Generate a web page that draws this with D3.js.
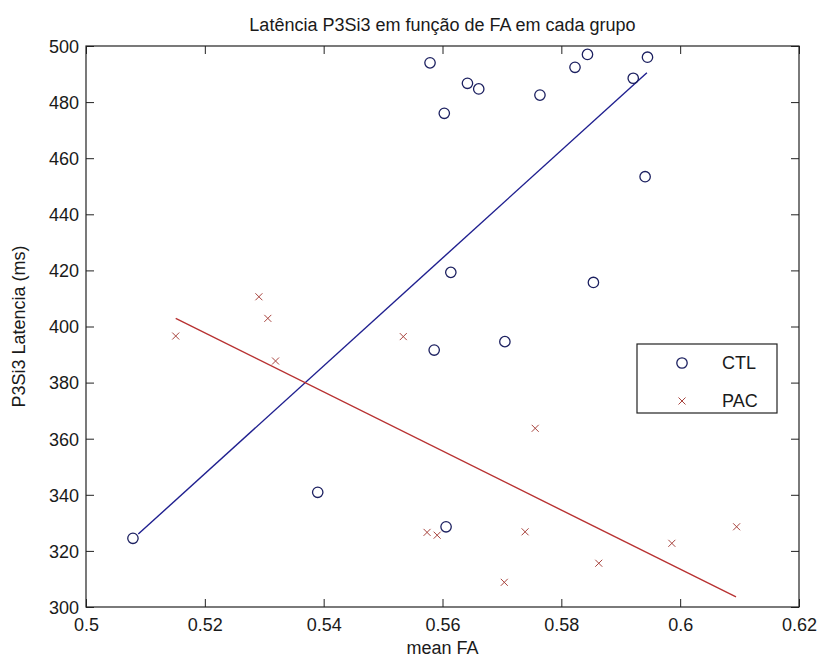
<!DOCTYPE html>
<html>
<head>
<meta charset="utf-8">
<script src="https://cdn.jsdelivr.net/npm/d3@7"></script>
<style>
  body { margin: 0; background: #fff; }
  text { font-family: "Liberation Sans", Arial, sans-serif; fill: #1a1a1a; }
</style>
</head>
<body>
<svg id="chart" width="821" height="662"></svg>
<script>
// Control group (CTL): mean FA vs P3Si3 latency (ms)
const ctlFA  = [0.5579, 0.5844, 0.5945, 0.5823, 0.5921, 0.5642, 0.5661, 0.5764, 0.5603,
                0.5941, 0.5614, 0.5854, 0.5586, 0.5705, 0.5606, 0.5390, 0.5079];
const ctlLat = [494.0, 497.0, 496.0, 492.4, 488.5, 486.7, 484.7, 482.5, 476.0,
                453.4, 419.3, 415.7, 391.6, 394.6, 328.6, 340.9, 324.5];

// Patient group (PAC)
const pacFA  = [0.5291, 0.5306, 0.5151, 0.5534, 0.5319, 0.5756, 0.5574, 0.5591,
                0.5739, 0.6095, 0.5986, 0.5863, 0.5704];
const pacLat = [410.6, 402.9, 396.6, 396.4, 387.7, 363.7, 326.6, 325.6,
                326.8, 328.6, 322.7, 315.6, 308.8];

// Least-squares fit lines, endpoints at each group's FA range
const ctlFitFA  = [0.5088, 0.5944];
const ctlFitLat = [326.0, 490.5];
const pacFitFA  = [0.5151, 0.6094];
const pacFitLat = [402.9, 303.6];

const xTicks = [0.5, 0.52, 0.54, 0.56, 0.58, 0.6, 0.62];
const yTicks = [300, 320, 340, 360, 380, 400, 420, 440, 460, 480, 500];
const groups = ["CTL", "PAC"];

const W = 821, H = 662;
const mL = 86, mR = 799, mT = 46, mB = 607;

const svg = d3.select("#chart");
svg.append("rect").attr("width", W).attr("height", H).attr("fill", "#fff");

const x = d3.scaleLinear().domain([0.5, 0.62]).range([mL, mR]);
const y = d3.scaleLinear().domain([300, 500]).range([mB, mT]);

const fmt = d => String(+d.toFixed(2));
const TICK = 8;

// Axes with inward ticks on all four sides
const gx = svg.append("g").attr("transform", `translate(0,${mB})`)
  .call(d3.axisBottom(x).tickValues(xTicks).tickFormat(fmt).tickSizeInner(-TICK).tickSizeOuter(0).tickPadding(11));
const gxt = svg.append("g").attr("transform", `translate(0,${mT})`)
  .call(d3.axisTop(x).tickValues(xTicks).tickFormat("").tickSizeInner(-TICK).tickSizeOuter(0));
const gy = svg.append("g").attr("transform", `translate(${mL},0)`)
  .call(d3.axisLeft(y).tickValues(yTicks).tickFormat(fmt).tickSizeInner(-TICK).tickSizeOuter(0).tickPadding(7));
const gyr = svg.append("g").attr("transform", `translate(${mR},0)`)
  .call(d3.axisRight(y).tickValues(yTicks).tickFormat("").tickSizeInner(-TICK).tickSizeOuter(0));

[gx, gxt, gy, gyr].forEach(g => {
  g.select(".domain").remove();
  g.selectAll(".tick line").attr("stroke", "#222").attr("stroke-width", 1);
  g.selectAll(".tick text").attr("font-size", 18).attr("fill", "#1a1a1a")
    .style("font-family", '"Liberation Sans", Arial, sans-serif');
});
gy.selectAll(".tick text").attr("dy", "0.35em");

svg.append("rect")
  .attr("x", mL).attr("y", mT)
  .attr("width", mR - mL).attr("height", mB - mT)
  .attr("fill", "none").attr("stroke", "#222").attr("stroke-width", 1.2);

// Fit lines
const line = d3.line().x(d => x(d[0])).y(d => y(d[1]));
svg.append("path")
  .datum(d3.zip(ctlFitFA, ctlFitLat))
  .attr("d", line).attr("fill", "none").attr("stroke", "#1f1f8f").attr("stroke-width", 1.4);
svg.append("path")
  .datum(d3.zip(pacFitFA, pacFitLat))
  .attr("d", line).attr("fill", "none").attr("stroke", "#b83232").attr("stroke-width", 1.4);

// CTL markers: open circles
const circColor = "#1c2060";
svg.append("g").selectAll("circle")
  .data(d3.zip(ctlFA, ctlLat))
  .join("circle")
  .attr("cx", d => x(d[0])).attr("cy", d => y(d[1]))
  .attr("r", 5.2).attr("fill", "none").attr("stroke", circColor).attr("stroke-width", 1.3);

// PAC markers: crosses
const crossColor = "#a8443e";
const xs = 3.5;
const cross = (cx, cy) => `M${cx - xs},${cy - xs}L${cx + xs},${cy + xs}M${cx - xs},${cy + xs}L${cx + xs},${cy - xs}`;
svg.append("g").selectAll("path")
  .data(d3.zip(pacFA, pacLat))
  .join("path")
  .attr("d", d => cross(x(d[0]), y(d[1])))
  .attr("fill", "none").attr("stroke", crossColor).attr("stroke-width", 1);

// Title and axis labels
svg.append("text").attr("x", (mL + mR) / 2).attr("y", 31)
  .attr("text-anchor", "middle").attr("font-size", 18)
  .text("Latência P3Si3 em função de FA em cada grupo");
svg.append("text").attr("x", (mL + mR) / 2).attr("y", 654)
  .attr("text-anchor", "middle").attr("font-size", 18)
  .text("mean FA");
svg.append("text")
  .attr("transform", `translate(25,${(mT + mB) / 2}) rotate(-90)`)
  .attr("text-anchor", "middle").attr("font-size", 18)
  .text("P3Si3 Latencia (ms)");

// Legend
const lg = svg.append("g").attr("transform", "translate(637,344)");
lg.append("rect").attr("width", 140).attr("height", 69)
  .attr("fill", "#fff").attr("stroke", "#222").attr("stroke-width", 1.2);
lg.append("circle").attr("cx", 45).attr("cy", 19).attr("r", 5.2)
  .attr("fill", "none").attr("stroke", circColor).attr("stroke-width", 1.3);
lg.append("path").attr("d", cross(45, 57))
  .attr("fill", "none").attr("stroke", crossColor).attr("stroke-width", 1);
lg.selectAll("text.lab").data(groups).join("text").attr("class", "lab")
  .attr("x", 85).attr("y", (d, i) => 19 + i * 38).attr("dy", "0.35em")
  .attr("font-size", 18).text(d => d);
</script>
</body>
</html>
